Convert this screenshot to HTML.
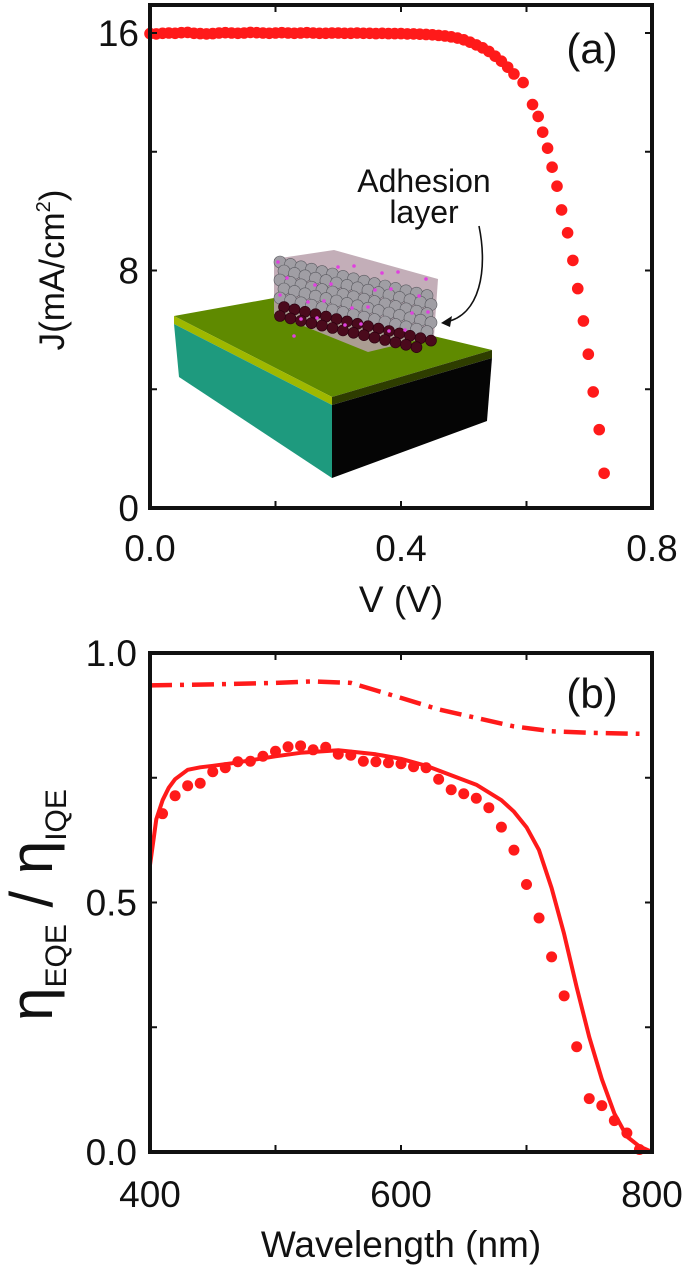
<!DOCTYPE html>
<html><head><meta charset="utf-8"><style>
html,body{margin:0;padding:0;background:#fff;}
svg{display:block;font-family:"Liberation Sans",Arial,sans-serif;}
</style></head><body>
<svg id="fig" width="692" height="1270" viewBox="0 0 692 1270" xmlns="http://www.w3.org/2000/svg">
<g id="pa"></g>
<g id="pb"></g>
</svg>
<script>
// Panel (a) data: J-V curve
const jvV = [0,0.01,0.02,0.03,0.04,0.05,0.06,0.07,0.08,0.09,0.10,0.11,0.12,0.13,0.14,0.15,0.16,0.17,0.18,0.19,0.20,0.21,0.22,0.23,0.24,0.25,0.26,0.27,0.28,0.29,0.30,0.31,0.32,0.33,0.34,0.35,0.36,0.37,0.38,0.39,0.40,0.41,0.42,0.43,0.44,0.45,0.46,0.47,0.48,0.49,0.50,0.51,0.52,0.53,0.54,0.55,0.56,0.57,0.58,0.5946,0.6096,0.6186,0.6258,0.6336,0.6408,0.6486,0.6559,0.6655,0.6739,0.6817,0.6907,0.6985,0.7063,0.7159,0.7237];
const jvJ = [15.98,15.97,15.99,16.0,15.99,16.01,16.02,15.99,15.98,15.97,15.98,16.0,16.01,16.0,15.99,16.0,16.02,16.01,16.0,15.99,16.0,16.01,16.0,15.99,16.0,16.01,16.0,15.99,15.99,16.0,16.0,15.99,15.99,16.0,15.99,15.99,15.98,15.99,15.98,15.98,15.98,15.97,15.97,15.96,15.95,15.94,15.92,15.9,15.87,15.83,15.77,15.69,15.6,15.5,15.38,15.22,15.05,14.85,14.62,14.33,13.59,13.19,12.66,12.12,11.48,10.84,10.04,9.27,8.34,7.39,6.30,5.18,3.91,2.64,1.17];
const aXTicks = [0.0,0.4,0.8];
const aXTickLabels = ["0.0","0.4","0.8"];
const aXMinor = [0.2,0.6];
const aYTicks = [0,8,16];
const aYTickLabels = ["0","8","16"];
const aYMinor = [4,12];

// Panel (b) data
const eqeWl = [410,420,430,440,450,460,470,480,490,500,510,520,530,540,550,560,570,580,590,600,610,620,630,640,650,660,670,680,690,700,710,720,730,740,750,760,770,780,790];
const eqeMeas = [0.678,0.714,0.734,0.739,0.762,0.770,0.782,0.783,0.793,0.803,0.812,0.814,0.806,0.811,0.797,0.795,0.783,0.782,0.780,0.778,0.772,0.770,0.747,0.726,0.718,0.709,0.690,0.651,0.605,0.536,0.469,0.391,0.313,0.211,0.107,0.093,0.063,0.038,0.005];
const simWl = [400,403,405,410,415,420,430,440,450,465,480,500,520,550,580,600,620,640,660,680,690,700,710,720,730,740,750,760,770,780,790,800];
const simEqe = [0.575,0.63,0.667,0.705,0.73,0.747,0.766,0.771,0.774,0.779,0.785,0.793,0.80,0.805,0.797,0.788,0.774,0.755,0.736,0.705,0.682,0.651,0.605,0.529,0.437,0.33,0.23,0.146,0.077,0.031,0.011,0.0];
const iqeWl = [400,450,500,530,560,580,600,630,660,690,720,750,790];
const iqeVal = [0.935,0.937,0.94,0.943,0.94,0.925,0.91,0.887,0.87,0.853,0.843,0.84,0.838];
const bXTicks = [400,600,800];
const bXTickLabels = ["400","600","800"];
const bXMinor = [500,700];
const bYTicks = [0,0.5,1.0];
const bYTickLabels = ["0.0","0.5","1.0"];
const bYMinor = [0.25,0.75];

const NS="http://www.w3.org/2000/svg";
function mk(parent,tag,attrs){const e=document.createElementNS(NS,tag);for(const k in attrs)e.setAttribute(k,attrs[k]);parent.appendChild(e);return e;}
const RED="#ff1a1a";

// ---------- Panel a ----------
const pa=document.getElementById('pa');
const aL=150,aR=652,aT=5,aB=508;
const ax=v=>aL+(v-0)/(0.8)*(aR-aL);
const ay=j=>aB-(j/16)*(aB-33);

// inset illustration
const inset=mk(pa,'g',{});


mk(inset,'polygon',{points:"174,316 274,298 492,350 332,397",fill:"#5f8a00"});
mk(inset,'polygon',{points:"174,316 332,397 332,405 174,324",fill:"#9fb800"});
mk(inset,'polygon',{points:"332,397 492,350 492,358 332,405",fill:"#2e3d00"});
mk(inset,'polygon',{points:"174,324 332,405 332,478 179,377",fill:"#1e9a7e"});
mk(inset,'polygon',{points:"332,405 492,358 487,421 332,478",fill:"#050505"});
// particle block
const pblk=mk(inset,'g',{});


mk(pblk,'polygon',{points:"274,259 334,250 438,279 434,336 368,352 274,314",fill:"#b8a0ac",opacity:"0.85"});
for(let r=0;r<7;r++){for(let c=0;c<15;c++){
  const cx=280+c*10.5+(r%2)*4, cy=262+r*9+c*2.4;
  const dark=r>=5;
  if(cx<433 && cy<348) mk(pblk,'circle',{cx:cx,cy:cy,r:dark?5.5:6,fill:dark?"#4a0a1c":"#a09ea4",stroke:dark?"#2a0010":"#5a5a60",'stroke-width':0.6});
}}
for(let c=0;c<26;c++){mk(pblk,'circle',{cx:278+(c*37)%155,cy:262+(c*23)%75,r:1.8,fill:"#e040e0"});}
// annotation
const ann=mk(pa,'text',{x:424,y:192,'font-size':32,'text-anchor':'middle',fill:'#111'});
ann.textContent="Adhesion";


const ann2=mk(pa,'text',{x:424,y:223,'font-size':32,'text-anchor':'middle',fill:'#111'});
ann2.textContent="layer";


const arr=mk(pa,'path',{d:"M479,226 C488,270 480,315 446,322",fill:"none",stroke:"#111",'stroke-width':1.6});


const ah=mk(pa,'polygon',{points:"441,323 452,316 450,327",fill:"#111"});



// JV dots
for(let i=0;i<jvV.length;i++){
  const c=mk(pa,'circle',{cx:ax(jvV[i]),cy:ay(jvJ[i]),r:5.8,fill:RED});
  
  
}
// frame
const fa=mk(pa,'rect',{x:aL,y:aT,width:aR-aL,height:aB-aT,fill:'none',stroke:'#111','stroke-width':4});


function tickX(g,x,yb,yt,len){mk(g,'line',{x1:x,y1:yb,x2:x,y2:yb-len,stroke:'#111','stroke-width':2});mk(g,'line',{x1:x,y1:yt,x2:x,y2:yt+len,stroke:'#111','stroke-width':2});}
function tickY(g,y,xl,xr,len){mk(g,'line',{x1:xl,y1:y,x2:xl+len,y2:y,stroke:'#111','stroke-width':2});mk(g,'line',{x1:xr,y1:y,x2:xr-len,y2:y,stroke:'#111','stroke-width':2});}
aXTicks.concat(aXMinor).forEach(v=>tickX(pa,ax(v),aB,aT,7));
aYTicks.concat(aYMinor).forEach(v=>tickY(pa,ay(v),aL,aR,7));
aXTicks.forEach((v,i)=>{const t=mk(pa,'text',{x:ax(v),y:561,'font-size':37,'text-anchor':'middle',fill:'#111'});t.textContent=aXTickLabels[i];

});
aYTicks.forEach((v,i)=>{const t=mk(pa,'text',{x:139,y:ay(v)+13,'font-size':37,'text-anchor':'end',fill:'#111'});t.textContent=aYTickLabels[i];

});
const xta=mk(pa,'text',{x:401,y:612,'font-size':37,'text-anchor':'middle',fill:'#111'});xta.textContent="V (V)";


const yta=mk(pa,'text',{x:0,y:0,'font-size':35,'text-anchor':'middle',fill:'#111',transform:'translate(64,270) rotate(-90)'});
yta.innerHTML='J(mA/cm<tspan dy="-14" font-size="20">2</tspan><tspan dy="14">)</tspan>';


const la=mk(pa,'text',{x:592,y:63,'font-size':42,'text-anchor':'middle',fill:'#111'});la.textContent="(a)";



// ---------- Panel b ----------
const pb=document.getElementById('pb');
const bL=150,bR=652,bT=653,bB=1152;
const bx=w=>bL+(w-400)/400*(bR-bL);
const by=v=>bB-v*(bB-bT);
const iq=mk(pb,'path',{d:iqeWl.map((w,i)=>(i?'L':'M')+bx(w).toFixed(1)+','+by(iqeVal[i]).toFixed(1)).join(' '),fill:'none',stroke:RED,'stroke-width':4.5,'stroke-dasharray':'22 8 4 8'});


const sl=mk(pb,'path',{d:simWl.map((w,i)=>(i?'L':'M')+bx(w).toFixed(1)+','+by(simEqe[i]).toFixed(1)).join(' '),fill:'none',stroke:RED,'stroke-width':4,'stroke-linejoin':'round'});


for(let i=0;i<eqeWl.length;i++){
  const c=mk(pb,'circle',{cx:bx(eqeWl[i]),cy:by(eqeMeas[i]),r:5.5,fill:RED});
  
  
}
const fb=mk(pb,'rect',{x:bL,y:bT,width:bR-bL,height:bB-bT,fill:'none',stroke:'#111','stroke-width':4});


bXTicks.concat(bXMinor).forEach(v=>tickX(pb,bx(v),bB,bT,7));
bYTicks.concat(bYMinor).forEach(v=>tickY(pb,by(v),bL,bR,7));
bXTicks.forEach((v,i)=>{const t=mk(pb,'text',{x:bx(v),y:1207,'font-size':37,'text-anchor':'middle',fill:'#111'});t.textContent=bXTickLabels[i];

});
bYTicks.forEach((v,i)=>{const t=mk(pb,'text',{x:137,y:by(v)+13,'font-size':37,'text-anchor':'end',fill:'#111'});t.textContent=bYTickLabels[i];

});
const xtb=mk(pb,'text',{x:401,y:1257,'font-size':37,'text-anchor':'middle',fill:'#111'});xtb.textContent="Wavelength (nm)";


const ytb=mk(pb,'text',{x:0,y:0,'font-size':60,'text-anchor':'middle',fill:'#111',transform:'translate(52,905) rotate(-90)'});
ytb.innerHTML='η<tspan dy="14" font-size="30">EQE</tspan><tspan dy="-14"> / η</tspan><tspan dy="14" font-size="30">IQE</tspan>';


const lb=mk(pb,'text',{x:592,y:708,'font-size':42,'text-anchor':'middle',fill:'#111'});lb.textContent="(b)";


</script>
</body></html>
